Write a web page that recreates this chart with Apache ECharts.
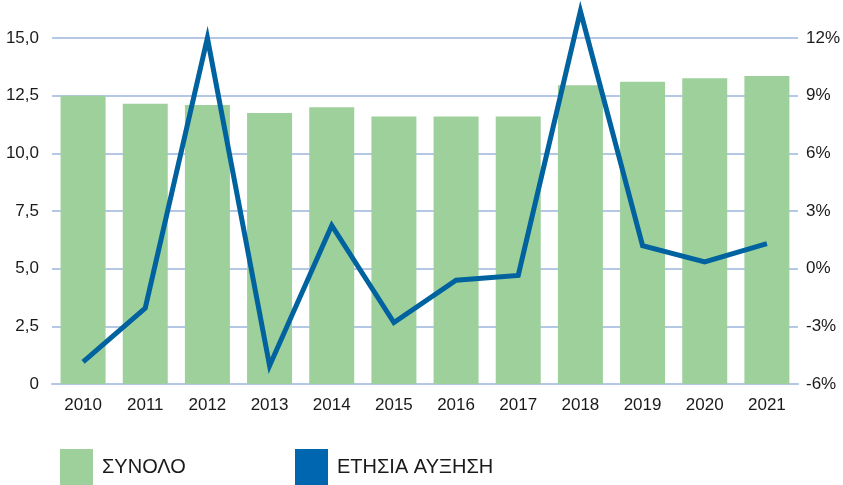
<!DOCTYPE html>
<html>
<head>
<meta charset="utf-8">
<script src="https://cdn.jsdelivr.net/npm/echarts@6/dist/echarts.min.js"></script>
<style>
  html, body { margin: 0; padding: 0; background: #fff; }
  #chart { width: 843px; height: 485px; }
</style>
</head>
<body>
<div id="chart"></div>
<script>
const years = ['2010', '2011', '2012', '2013', '2014', '2015', '2016', '2017', '2018', '2019', '2020', '2021'];
const totals = [12.5, 12.15, 12.1, 11.75, 12.0, 11.6, 11.6, 11.6, 12.95, 13.1, 13.25, 13.35];
const growth = [-4.85, -2.05, 12.0, -5.05, 2.25, -2.8, -0.6, -0.35, 13.4, 1.2, 0.35, 1.3];
const seriesNames = ['ΣΥΝΟΛΟ', 'ΕΤΗΣΙΑ ΑΥΞΗΣΗ'];

const green = '#9dd09b';
const blue = '#00629e';
const gridColor = '#b4c8e6';
const font = '"Liberation Sans", "DejaVu Sans", sans-serif';

const chart = echarts.init(document.getElementById('chart'));

const legendText = { fontSize: 20, color: '#1a1a1a', fontFamily: font, padding: [0, 0, 0, 4] };

chart.setOption({
    animation: false,
    grid: { left: 52, right: 43, top: 38, bottom: 101 },
    legend: [
        {
            left: 60, top: 449, padding: 0,
            itemWidth: 33, itemHeight: 36, icon: 'rect',
            textStyle: legendText,
            data: [{ name: seriesNames[0], itemStyle: { color: green } }]
        },
        {
            left: 295, top: 449, padding: 0,
            itemWidth: 33, itemHeight: 36, icon: 'rect',
            textStyle: legendText,
            data: [{ name: seriesNames[1], itemStyle: { color: '#0066b0' } }]
        }
    ],
    xAxis: {
        type: 'category',
        data: years,
        axisLine: { lineStyle: { color: gridColor, width: 2 } },
        axisTick: { show: false },
        axisLabel: { color: '#1a1a1a', fontSize: 17, fontFamily: font, margin: 13 }
    },
    yAxis: [
        {
            type: 'value',
            min: 0, max: 15, interval: 2.5,
            axisLine: { show: false },
            axisTick: { show: false },
            axisLabel: {
                color: '#1a1a1a', fontSize: 17, fontFamily: font, margin: 13,
                formatter: (v) => v === 0 ? '0' : v.toFixed(1).replace('.', ',')
            },
            splitLine: { lineStyle: { color: gridColor, width: 2 } }
        },
        {
            type: 'value',
            min: -6, max: 12, interval: 3,
            axisLine: { show: false },
            axisTick: { show: false },
            axisLabel: {
                color: '#1a1a1a', fontSize: 17, fontFamily: font, margin: 8,
                formatter: (v) => v + '%'
            },
            splitLine: { show: false }
        }
    ],
    series: [
        {
            name: seriesNames[0],
            type: 'bar',
            data: totals,
            barWidth: 45,
            itemStyle: { color: green }
        },
        {
            name: seriesNames[1],
            type: 'line',
            yAxisIndex: 1,
            data: growth,
            symbol: 'none',
            clip: false,
            lineStyle: { color: blue, width: 5, join: 'miter' },
            itemStyle: { color: blue },
            z: 5
        }
    ]
});
</script>
</body>
</html>
